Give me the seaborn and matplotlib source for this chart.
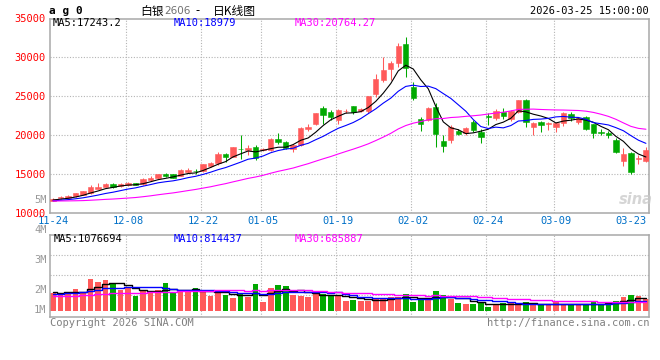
import numpy as np
import pandas as pd
import matplotlib
matplotlib.use("Agg")
import matplotlib.pyplot as plt
import seaborn as sns

# ---------------- data ----------------
opens = [11550, 11880, 11920, 12130, 12350, 12560, 13110, 13400, 13670, 13420,
         13550, 13800, 13720, 14180, 14440, 15000, 14950, 14780, 15300, 15450,
         15350, 16100, 16450, 17600, 17260, 18250, 18100, 18540, 18150, 18080,
         19530, 19100, 18230, 18750, 20850, 21410, 23460, 23030, 21960, 23050,
         23750, 23110, 23110, 25240, 27090, 28500, 29230, 31700, 26150, 22050,
         21960, 23590, 19310, 19400, 20590, 20260, 21710, 20460, 22450, 22180,
         22990, 22050, 22950, 24530, 21020, 21740, 21500, 21100, 21540, 22730,
         21740, 22380, 21450, 20460, 20330, 19400, 16620, 17770, 16920, 16700]
highs = [11900, 12200, 12250, 12550, 12800, 13540, 13800, 13900, 13800, 13850,
         13950, 13850, 14450, 14700, 15050, 15200, 15000, 15600, 15750, 15700,
         16350, 16600, 17800, 17650, 18500, 20030, 18700, 18800, 18400, 19700,
         20260, 19300, 18900, 21000, 21400, 22900, 23750, 23200, 23400, 23350,
         23800, 23450, 25100, 27900, 30000, 29500, 31860, 32580, 26800, 22300,
         23600, 24180, 20030, 21300, 20800, 21100, 21900, 20770, 22900, 23400,
         23500, 23300, 24530, 24600, 21700, 21870, 21750, 21700, 23000, 22990,
         22300, 22500, 21500, 20800, 20600, 19600, 18400, 17900, 17450, 18500]
lows = [11500, 11850, 11900, 12100, 12300, 12500, 13050, 13300, 13250, 13300,
        13450, 13550, 13650, 14100, 14400, 14650, 14450, 14700, 15150, 15050,
        15300, 15950, 16200, 16600, 17200, 16950, 17400, 16800, 17950, 18000,
        18850, 18200, 17820, 18600, 20600, 21300, 21400, 22000, 21400, 22800,
        22700, 23000, 22900, 24950, 26870, 27100, 28760, 27510, 24520, 20600,
        21800, 18460, 17900, 19000, 20000, 20000, 20400, 18970, 21300, 21900,
        22100, 21850, 22900, 21100, 20030, 20460, 20700, 20400, 21200, 21870,
        21500, 20700, 19700, 20030, 19600, 17650, 16060, 15000, 16350, 16600]
closes = [11800, 12080, 12220, 12510, 12770, 13280, 13370, 13720, 13330, 13670,
          13840, 13600, 14400, 14560, 15000, 14700, 14530, 15550, 15590, 15400,
          16280, 16450, 17640, 17260, 18460, 18200, 18300, 17050, 18250, 19530,
          19140, 18330, 18740, 20970, 21050, 22820, 22640, 22390, 23240, 23100,
          23030, 23360, 25040, 27200, 28370, 29220, 31500, 28650, 24820, 21410,
          23460, 20200, 18670, 21020, 20170, 20970, 20680, 19740, 22300, 23160,
          22510, 23160, 24530, 21670, 21610, 21360, 21600, 21610, 22900, 22180,
          22180, 20800, 20260, 20260, 20030, 17900, 17600, 15330, 17050, 18120]
volumes = [1.40, 1.32, 1.53, 1.75, 1.53, 2.56, 2.31, 2.48, 2.13, 1.67,
           1.81, 1.21, 1.61, 1.51, 1.67, 2.26, 1.51, 1.59, 1.51, 1.83,
           1.65, 1.21, 1.40, 1.29, 1.02, 1.43, 1.08, 2.15, 0.70, 1.83,
           2.07, 1.99, 1.29, 1.21, 1.13, 1.32, 1.35, 1.29, 1.27, 0.81,
           0.86, 0.81, 0.81, 0.92, 1.02, 1.13, 1.13, 1.35, 0.70, 0.97,
           0.86, 1.59, 1.27, 0.92, 0.62, 0.54, 0.54, 0.70, 0.30, 0.54,
           0.60, 0.60, 0.54, 0.70, 0.54, 0.44, 0.48, 0.70, 0.48, 0.44,
           0.50, 0.52, 0.74, 0.58, 0.62, 0.78, 1.08, 1.25, 1.19, 0.96]
# closes / volumes of the days before 11-24 (needed only for the moving averages)
prior_closes = [11850, 11950, 12050, 12100, 11900, 11800, 11950, 12000, 11850, 11950,
                11500, 11300, 11100, 10950, 11000, 11050, 11150, 11000, 11050, 11100,
                11300, 11400, 11450, 11500, 11600, 11550, 11650, 11700, 11650]
prior_volumes = [1.10, 1.15, 1.05, 1.20, 1.10, 1.08, 1.12, 1.15, 1.10, 1.05,
                 1.18, 1.12, 1.10, 1.15, 1.08, 1.12, 1.10, 1.14, 1.11, 1.05,
                 1.02, 1.10, 1.08, 1.05, 1.40, 1.55, 1.45, 1.60, 1.50]

price_ticks = [10000, 15000, 20000, 25000, 30000, 35000]
date_labels = ['11-24', '12-08', '12-22', '01-05', '01-19', '02-02', '02-24', '03-09', '03-23']
date_index = [0, 10, 20, 28, 38, 48, 58, 67, 77]
vol_labels = ['5M', '4M', '3M', '2M', '1M']
ma_windows = [5, 10, 30]
ma_price_text = ['MA5:17243.2', 'MA10:18979', 'MA30:20764.27']
ma_vol_text = ['MA5:1076694', 'MA10:814437', 'MA30:685887']
title_parts = ['白银', '2606', '-', '日K线图']
symbol_text = 'a g 0'
time_text = '2026-03-25 15:00:00'
copyright_text = 'Copyright 2026 SINA.COM'
url_text = 'http://finance.sina.com.cn'

# ---------------- style ----------------
RED = '#FF5A5A'
GREEN = '#00A900'
MA_COLORS = ['#000000', '#0000FF', '#FF00FF']
GRID = '#B4B4B4'
BORDER = '#A8A8A8'
FS = 7.5

sns.set_style('white')
plt.rcParams['font.family'] = ['DejaVu Sans Mono', 'Noto Sans CJK SC']
plt.rcParams['font.size'] = FS

W, H = 660, 360
fig = plt.figure(figsize=(W / 100, H / 100), dpi=100)
fig.patch.set_facecolor('white')


def rect(l, t, r, b):
    return [l / W, 1 - b / H, (r - l) / W, (b - t) / H]


def px(x, y):
    return x / W, 1 - y / H


ax = fig.add_axes(rect(50, 18.5, 649, 213))
axv = fig.add_axes(rect(50, 235, 649, 317))

n = len(closes)
idx = np.arange(n)
o = np.array(opens, float)
h = np.array(highs, float)
l = np.array(lows, float)
c = np.array(closes, float)
up = c >= o
colors = np.where(up, RED, GREEN)

xlim = (-0.4, 79.41)
for a in (ax, axv):
    a.set_xlim(*xlim)
    a.set_facecolor('white')
    for s in a.spines.values():
        s.set_color(BORDER)
        s.set_linewidth(1.1)
        s.set_visible(True)
    for k in date_index[1:-1]:
        a.axvline(k - 0.3, color=GRID, lw=0.8, ls=(0, (1, 1.5)), zorder=0.5)

# ---------------- price panel ----------------
ax.set_ylim(10000, 35000)
for v in price_ticks[1:-1]:
    ax.axhline(v, color=GRID, lw=0.8, ls=(0, (1, 1.5)), zorder=0.5)

ax.vlines(idx, l, h, colors=colors, lw=0.75, zorder=2)
body_h = np.maximum(np.abs(c - o), 40)
ax.bar(idx, body_h, bottom=np.minimum(o, c), width=0.72, color=colors,
       edgecolor=colors, linewidth=0.4, zorder=3)

all_c = pd.Series(prior_closes + closes, dtype=float)
for w, col in zip(ma_windows, MA_COLORS):
    ma = all_c.rolling(w).mean().iloc[len(prior_closes):].to_numpy()
    sns.lineplot(x=idx, y=ma, ax=ax, color=col, lw=0.8, zorder=4, legend=False)

ax.set_yticks(price_ticks)
ax.set_yticklabels([str(v) for v in price_ticks])
ax.tick_params(axis='y', length=0, pad=3, labelcolor='#FF0000', labelsize=FS)
ax.set_xticks(date_index)
ax.set_xticklabels(date_labels)
ax.tick_params(axis='x', length=0, pad=2, labelcolor='#0070C8', labelsize=FS)
ax.set_xlabel('')
ax.set_ylabel('')

# ---------------- volume panel ----------------
vol_lo, vol_hi = -0.508, 6.105
axv.set_ylim(vol_lo, vol_hi)
for f in [(317 - 255) / 82, (317 - 275) / 82, (317 - 295) / 82]:
    axv.axhline(vol_lo + f * (vol_hi - vol_lo), color=GRID, lw=0.8,
                ls=(0, (1, 1.5)), zorder=0.5)
axv.bar(idx, volumes, width=0.76, color=colors, linewidth=0, zorder=2)
all_v = pd.Series(prior_volumes + volumes, dtype=float)
for w, col in zip(ma_windows, MA_COLORS):
    mv = all_v.rolling(w).mean().iloc[len(prior_volumes):].to_numpy()
    sns.lineplot(x=idx, y=mv, ax=axv, color=col, lw=1.0, zorder=4,
                 legend=False, drawstyle='steps-mid')
axv.set_xticks([])
axv.set_yticks([])
axv.set_xlabel('')
axv.set_ylabel('')

for lab, yy in zip(vol_labels, [200, 230, 260, 290, 310]):
    fig.text(*px(46.5, yy), lab, ha='right', va='center', color='#999999', fontsize=FS)

# ---------------- texts ----------------
for t, col, xx in zip(ma_price_text, MA_COLORS, [53, 174, 295]):
    fig.text(*px(xx, 23.5), t, ha='left', va='center', color=col, fontsize=FS)
for t, col, xx in zip(ma_vol_text, MA_COLORS, [54, 174, 295]):
    fig.text(*px(xx, 239), t, ha='left', va='center', color=col, fontsize=FS)

fig.text(*px(49, 11), symbol_text, ha='left', va='center', fontsize=8,
         fontweight='bold', color='#000000')
cjk = ['Noto Sans CJK SC', 'DejaVu Sans']
fig.text(*px(140, 11), title_parts[0], ha='left', va='center', fontsize=8.5,
         family=cjk, color='#000000')
fig.text(*px(164, 11.5), title_parts[1], ha='left', va='center', fontsize=FS,
         family=['DejaVu Sans'], color='#707070')
fig.text(*px(195, 11), title_parts[2], ha='left', va='center', fontsize=8.5,
         family=cjk, color='#000000')
fig.text(*px(213, 11), title_parts[3], ha='left', va='center', fontsize=8.5,
         family=cjk, color='#000000')
fig.text(*px(649, 11.5), time_text, ha='right', va='center', fontsize=FS, color='#000000')
fig.text(*px(50, 323), copyright_text, ha='left', va='center', fontsize=FS, color='#808080')
fig.text(*px(649, 323), url_text, ha='right', va='center', fontsize=FS, color='#808080')
fig.text(*px(636, 200), 'sina', ha='center', va='center', fontsize=10.5,
         fontweight='bold', style='italic', family=['DejaVu Sans'],
         color='#C8C8C8', alpha=0.75)

fig.savefig('out.png', dpi=100, facecolor='white')
